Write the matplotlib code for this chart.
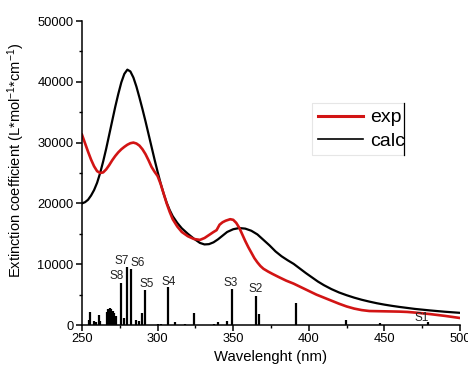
import matplotlib
matplotlib.use("Agg")
import matplotlib.pyplot as plt
from matplotlib.lines import Line2D
from matplotlib.ticker import MultipleLocator

plt.rcParams['font.family'] = ['Liberation Sans', 'DejaVu Sans']
plt.rcParams['mathtext.default'] = 'regular'

# Experimental spectrum (red)
exp_wl = [250, 252, 254, 256, 258, 260, 262, 264, 266, 268, 270, 272, 274, 276, 278, 280,
          282, 284, 286, 288, 290, 292, 294, 296, 298, 300, 302, 304, 306, 308, 310, 313,
          316, 320, 324, 328, 331, 334, 337, 339, 341, 343, 345, 348, 350, 352, 354, 356,
          358, 360, 362, 364, 366, 368, 370, 373, 376, 380, 385, 390, 395, 400, 405, 410,
          415, 420, 425, 430, 435, 440, 450, 460, 465, 470, 480, 490, 500]
exp_val = [31300, 29900, 28500, 27200, 26100, 25300, 25000, 25100, 25600, 26300, 27100, 27800,
           28400, 28900, 29300, 29650, 29900, 30000, 29850, 29500, 28900, 28100, 27100, 26000,
           25200, 24500, 23200, 21600, 20000, 18600, 17400, 16200, 15300, 14600, 14150, 14000,
           14300, 14800, 15300, 15600, 16500, 16900, 17150, 17400, 17300, 16800, 16000, 14900,
           13800, 12800, 11900, 11000, 10300, 9700, 9250, 8800, 8400, 7900, 7300, 6800, 6200,
           5600, 5000, 4500, 4000, 3500, 3050, 2700, 2450, 2300, 2250, 2200, 2150, 2050, 1800,
           1500, 1150]

# Calculated spectrum (black)
calc_wl = [250, 252, 254, 256, 258, 260, 262, 264, 266, 268, 270, 272, 274, 276, 278, 280,
           282, 284, 286, 288, 290, 292, 294, 296, 298, 300, 302, 304, 306, 308, 310, 313,
           316, 320, 324, 328, 331, 334, 337, 340, 343, 346, 350, 354, 358, 362, 366, 370,
           374, 378, 382, 386, 390, 394, 398, 402, 406, 410, 415, 420, 425, 430, 435, 440,
           445, 450, 455, 460, 470, 480, 490, 500]
calc_val = [20000, 20200, 20600, 21300, 22200, 23400, 25000, 26900, 29000, 31300, 33600, 35900,
            38000, 39900, 41300, 42000, 41700, 40700, 39200, 37400, 35500, 33500, 31400, 29300,
            27200, 25200, 23300, 21600, 20100, 18900, 17900, 16800, 15900, 15000, 14200, 13500,
            13250, 13300, 13600, 14100, 14700, 15300, 15750, 15950, 15850, 15500, 14900, 14000,
            13100, 12100, 11300, 10650, 10050, 9300, 8550, 7850, 7150, 6550, 5900, 5350, 4900,
            4500, 4150, 3850, 3580, 3350, 3150, 2970, 2650, 2400, 2180, 2000]

# Calculated transitions (sticks)
stick_wl = [254.4, 255.3, 257.7, 259.3, 261.0, 262.2, 266.5, 267.4, 268.3, 269.4, 270.3, 271.2,
            272.3, 275.8, 277.6, 279.8, 282.2, 285.5, 287.5, 289.7, 291.5, 300.0, 302.0, 306.8,
            311.5, 318.0, 324.3, 337.0, 340.0, 346.0, 349.0, 365.0, 367.0, 391.5, 424.6, 447.0,
            479.0]
stick_h = [850, 2100, 700, 550, 1600, 600, 2200, 2600, 2800, 2700, 2300, 2000,
           1400, 6950, 1200, 9600, 9200, 900, 600, 1900, 5750, 150, 150, 6200,
           550, 200, 1900, 200, 450, 700, 6000, 4800, 1800, 3550, 900, 300,
           500]

state_labels = ['S8', 'S7', 'S6', 'S5', 'S4', 'S3', 'S2', 'S1']
label_x = [273.0, 276.5, 286.6, 292.5, 307.3, 348.5, 365.0, 474.5]
label_y = [8060, 10500, 10200, 6750, 7070, 6900, 5900, 1150]

fig = plt.figure(figsize=(4.68, 3.72), dpi=100)
ax = fig.add_axes([82/468, 1-325/372, (460-82)/468, (325-21)/372])

ax.vlines(stick_wl, 0, stick_h, color='black', lw=1.6)
ax.plot(calc_wl, calc_val, color='black', lw=1.6, solid_joinstyle='round')
ax.plot(exp_wl, exp_val, color='#d21414', lw=1.9, solid_joinstyle='round')

for t, x, y in zip(state_labels, label_x, label_y):
    ax.text(x, y, t, ha='center', va='center', fontsize=8.5, color='#222222')

ax.set_xlim(250, 500)
ax.set_ylim(0, 50000)
ax.xaxis.set_major_locator(MultipleLocator(50))
ax.xaxis.set_minor_locator(MultipleLocator(25))
ax.yaxis.set_major_locator(MultipleLocator(10000))
ax.yaxis.set_minor_locator(MultipleLocator(5000))
for s in ['top', 'right']:
    ax.spines[s].set_visible(False)
for s in ['left', 'bottom']:
    ax.spines[s].set_linewidth(1.1)
ax.tick_params(which='major', direction='out', length=4, width=1.1, labelsize=9.3, pad=2)
ax.tick_params(which='minor', direction='out', length=2.5, width=1.0)
ax.set_xlabel('Wavelenght (nm)', fontsize=10.7, labelpad=3)
ax.set_ylabel('Extinction coefficient (L*mol$^{-1}$*cm$^{-1}$)', fontsize=10.5)
ax.yaxis.set_label_coords(-0.145, 0.54)

handles = [Line2D([], [], color='#d21414', lw=2.2), Line2D([], [], color='black', lw=1.2)]
leg = fig.legend(handles, ['exp', 'calc'], loc='upper left',
                 bbox_to_anchor=(312/468, 1-103/372), bbox_transform=fig.transFigure,
                 fontsize=14, frameon=False,
                 handlelength=2.3, handletextpad=0.4, labelspacing=0.3, borderpad=0.3,
                 borderaxespad=0)
# legend box: faint top/left/bottom edges, dark right edge
x0, x1 = 312/468, 404/468
y0, y1 = 1-155/372, 1-103/372
fig.add_artist(Line2D([x1, x0, x0, x1], [y1, y1, y0, y0], color='#e6e6e6', lw=0.8,
                      transform=fig.transFigure))
fig.add_artist(Line2D([x1, x1], [y1, y0], color='black', lw=0.9,
                      transform=fig.transFigure))

fig.savefig('out.png', dpi=100)
